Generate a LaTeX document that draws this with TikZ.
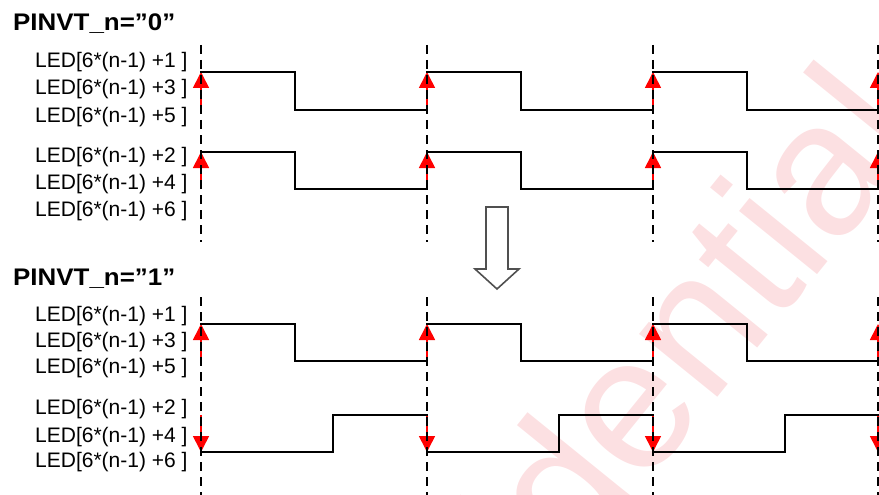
\documentclass[tikz,border=0pt]{standalone}
\usepackage{fontspec}
\setmainfont{Liberation Sans}
\usetikzlibrary{arrows.meta}
\definecolor{wmpink}{RGB}{252,224,226}
\definecolor{bigarrow}{RGB}{80,80,80}
\begin{document}
\begin{tikzpicture}[x=1pt,y=-1pt,
  wave/.style={line width=1.6pt, line join=miter, line cap=rect},
  tick/.style={line width=1.6pt, dash pattern=on 9pt off 6pt},
  rise/.style={red, line width=1.6pt, -{Triangle[width=16pt,length=16pt]}},
  lbl/.style={anchor=base west, inner sep=0pt, font=\fontsize{21}{24}\selectfont},
  ttl/.style={anchor=base west, inner sep=0pt, font=\fontsize{24}{28}\selectfont\bfseries},
  wm/.style={rotate=51, anchor=base east, inner sep=0pt, text=wmpink, font=\fontsize{190}{190}\selectfont},
]
\useasboundingbox (0,0) rectangle (879,495);
\begin{scope}
\clip (0,0) rectangle (879,495);
\node[wm] (watermark) at (929,136) {Confidential};

% titles
\node[ttl] (t0) at (13,31) {\scalebox{1.08}[1]{PINVT\_n=”0”}};
\node[ttl] (t1) at (13,285) {\scalebox{1.08}[1]{PINVT\_n=”1”}};

% labels
\node[lbl] (a1) at (35,68)  {LED[6*(n-1) +1 ]};
\node[lbl] (a3) at (35,95)  {LED[6*(n-1) +3 ]};
\node[lbl] (a5) at (35,122) {LED[6*(n-1) +5 ]};
\node[lbl] (a2) at (35,162) {LED[6*(n-1) +2 ]};
\node[lbl] (a4) at (35,189) {LED[6*(n-1) +4 ]};
\node[lbl] (a6) at (35,216) {LED[6*(n-1) +6 ]};
\node[lbl] (b1) at (35,321) {LED[6*(n-1) +1 ]};
\node[lbl] (b3) at (35,347) {LED[6*(n-1) +3 ]};
\node[lbl] (b5) at (35,373) {LED[6*(n-1) +5 ]};
\node[lbl] (b2) at (35,414) {LED[6*(n-1) +2 ]};
\node[lbl] (b4) at (35,442) {LED[6*(n-1) +4 ]};
\node[lbl] (b6) at (35,467) {LED[6*(n-1) +6 ]};

% red edge arrows
\foreach \x in {201,427,653,878}{
  \draw[rise] (\x,110) -- (\x,72);
  \draw[rise] (\x,189) -- (\x,152);
  \draw[rise] (\x,361) -- (\x,324);
  \draw[rise] (\x,415) -- (\x,452);
}

% dashed time marks
\foreach \x in {201,427,653,878}{
  \draw[tick] (\x,45) -- (\x,242);
  \draw[tick] (\x,297) -- (\x,495);
}

% waveforms
\foreach \x in {201,427,653}{
  \draw[wave] (\x,72) -- ++(94,0) -- ++(0,38) -- ++(132,0);
  \draw[wave] (\x,152) -- ++(94,0) -- ++(0,37) -- ++(132,0);
  \draw[wave] (\x,324) -- ++(94,0) -- ++(0,37) -- ++(132,0);
  \draw[wave] (\x,452) -- ++(132,0) -- ++(0,-37) -- ++(94,0);
}

% big hollow arrow
\draw[bigarrow, line width=1.6pt, line join=miter]
  (486,207) -- (508,207) -- (508,269) -- (519,269) -- (497,289)
  -- (475,269) -- (486,269) -- cycle;
\end{scope}
\end{tikzpicture}
\end{document}
